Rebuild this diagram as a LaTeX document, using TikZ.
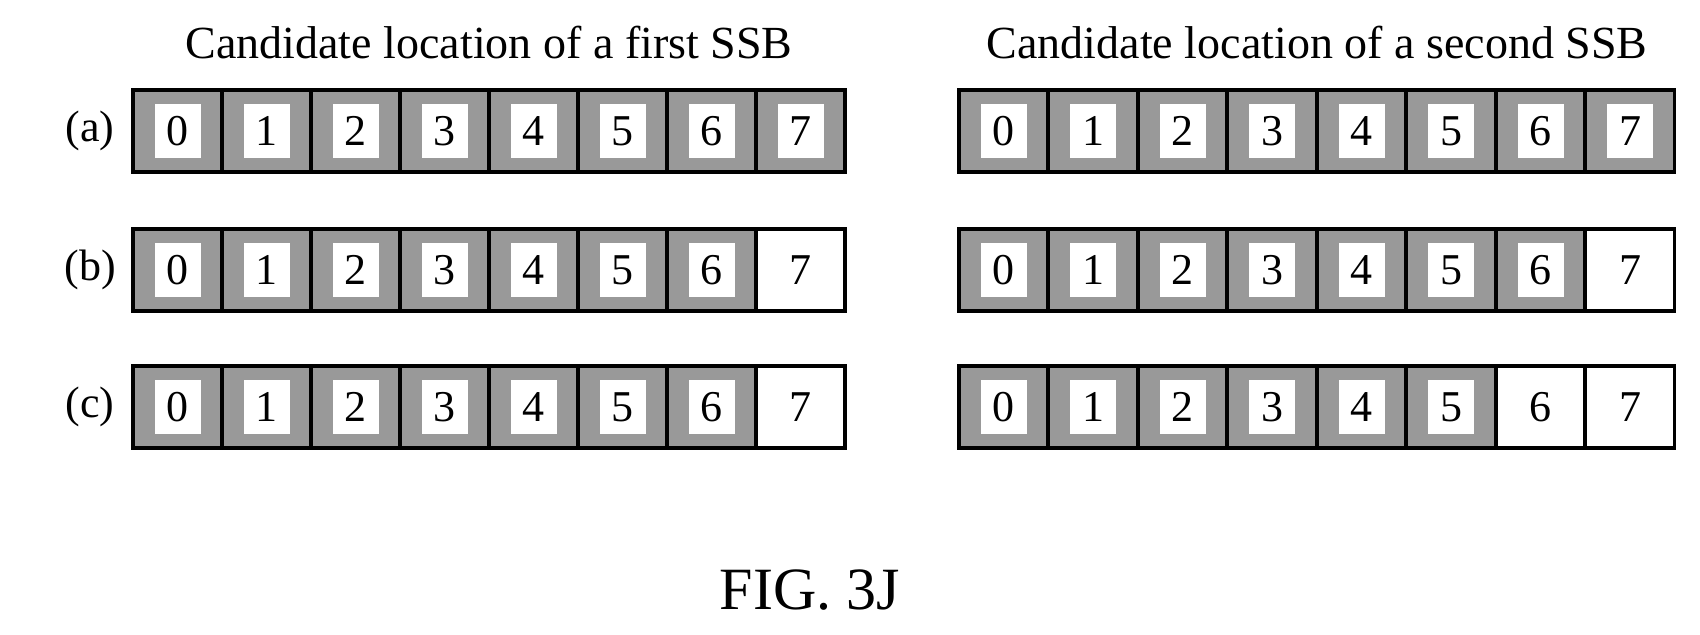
\documentclass[tikz,border=0pt]{standalone}
\usepackage{fontspec}
\setmainfont{Liberation Serif}
\usetikzlibrary{positioning, calc}
\definecolor{slotgray}{gray}{0.6}

\begin{document}
\begin{tikzpicture}[x=0.5pt, y=-0.5pt,
				slot/.style = {rectangle, draw = black, line width = 1.8pt, fill = slotgray, minimum width = 44.5pt, minimum height = 41pt, inner sep = 0pt},
				freeslot/.style = {slot, fill = white},
				digit/.style = {rectangle, fill = white, minimum width = 23pt, minimum height = 27pt, inner sep = 0pt, font = \fontsize{22}{22}\selectfont},
				rowlabel/.style = {font = \fontsize{22}{22}\selectfont},
				caption/.style = {font = \fontsize{23}{23}\selectfont},
			]
			\useasboundingbox (0,0) rectangle (1700,635);
			\node[caption](TitleL) at (489,43){Candidate location of a first SSB};
			\node[caption](TitleR) at (1317,43){Candidate location of a second SSB};
			\node[caption, font = \fontsize{30}{30}\selectfont](Fig) at (810,590){FIG. 3J};

			% rows: name / y / free slots left / free slots right
			\foreach \r/\y/\fl/\fr in {a/131/8/8, b/270/7/7, c/407/7/6}{
				\node[rowlabel](L\r) at (90,\y){(\r)};
				\foreach \i in {0,...,7}{
					\ifnum\i<\fl
						\node[slot](A\r\i) at (133+44.5+89*\i,\y){};
						\node[digit] at (A\r\i){\i};
					\else
						\node[freeslot, font = \fontsize{22}{22}\selectfont](A\r\i) at (133+44.5+89*\i,\y){\i};
					\fi
					\ifnum\i<\fr
						\node[slot](B\r\i) at (959+44.5+89.5*\i,\y){};
						\node[digit] at (B\r\i){\i};
					\else
						\node[freeslot, font = \fontsize{22}{22}\selectfont](B\r\i) at (959+44.5+89.5*\i,\y){\i};
					\fi
				}
			}
		\end{tikzpicture}
\end{document}
